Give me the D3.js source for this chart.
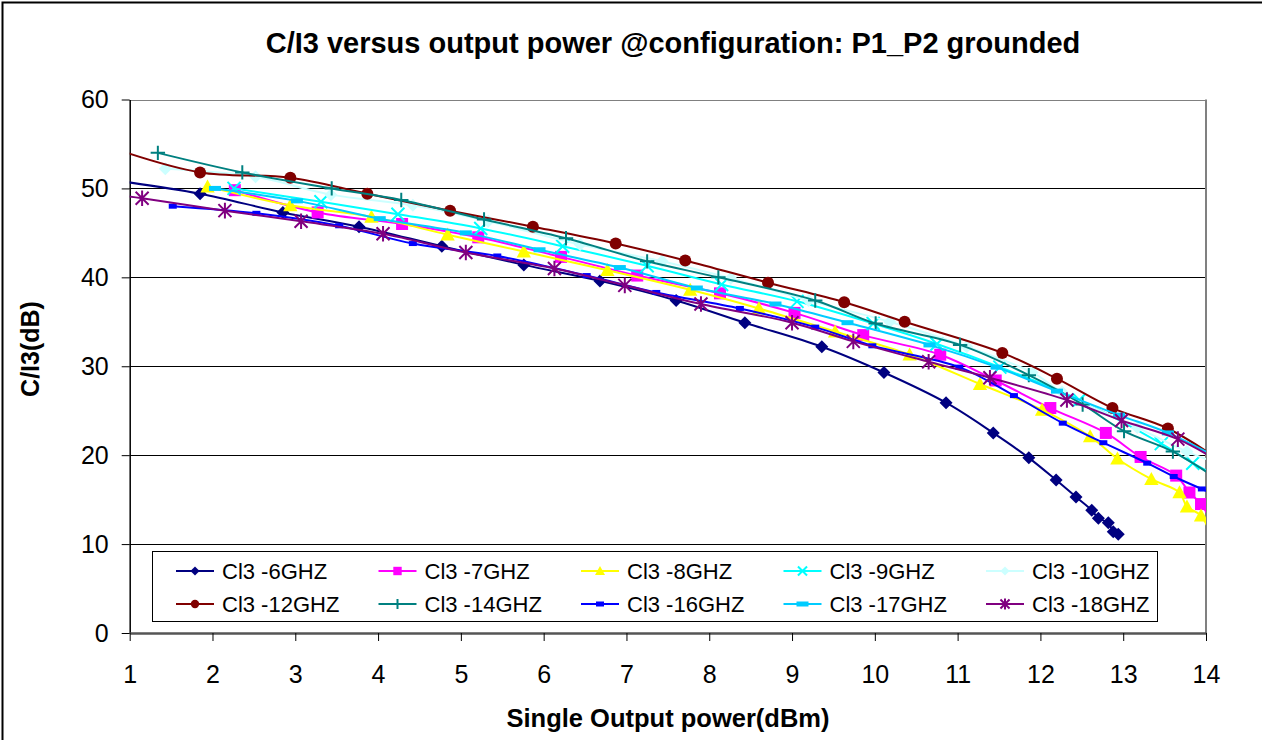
<!DOCTYPE html>
<html>
<head>
<meta charset="utf-8">
<script src="https://cdn.jsdelivr.net/npm/d3@7"></script>
<style>
  body { margin: 0; background: #fff; }
  svg { display: block; font-family: "Liberation Sans", Arial, sans-serif; }
</style>
</head>
<body>
<svg width="1262" height="740"></svg>
<script>
var margin = {left:129.7, right:56, top:99.5, bottom:107};
var width = 1262, height = 740;

var xTicks = [1,2,3,4,5,6,7,8,9,10,11,12,13,14];
var yTicks = [0,10,20,30,40,50,60];

var seriesNames = ["Cl3 -6GHZ","Cl3 -7GHZ","Cl3 -8GHZ","Cl3 -9GHZ","Cl3 -10GHZ",
                   "Cl3 -12GHZ","Cl3 -14GHZ","Cl3 -16GHZ","Cl3 -17GHZ","Cl3 -18GHZ"];

// [output power dBm, C/I3 dB]
var ci6 = [[0.9,50.8],[1.85,49.4],[2.85,47.3],[3.77,45.7],[4.77,43.5],[5.76,41.4],[6.68,39.6],
  [7.6,37.4],[8.43,34.9],[9.36,32.2],[10.11,29.3],[10.86,25.9],[11.43,22.5],[11.86,19.7],
  [12.19,17.2],[12.43,15.3],[12.62,13.8],[12.7,12.9],[12.82,12.4],[12.88,11.4],[12.94,11.1]];
var ci7 = [[2.27,49.8],[3.27,47.3],[4.29,46.0],[5.21,44.5],[6.21,42.3],[7.13,40.2],[8.13,38.2],
  [9.03,36.0],[9.86,33.5],[10.79,31.3],[11.46,28.4],[12.12,25.3],[12.79,22.5],[13.21,19.8],
  [13.64,17.7],[13.8,15.8],[13.94,14.5],[14.1,12.0]];
var ci8 = [[1.94,50.2],[2.94,48.1],[3.92,46.8],[4.84,44.8],[5.76,42.9],[6.77,40.8],[7.77,38.6],
  [8.6,36.5],[9.52,33.9],[10.42,31.3],[11.27,28.0],[12.02,25.1],[12.6,22.1],[12.93,19.6],
  [13.34,17.3],[13.68,15.8],[13.77,14.2],[13.94,13.2],[14.1,10.0]];
var ci9 = [[2.26,50.0],[3.31,48.5],[4.24,47.1],[5.24,45.5],[6.23,43.5],[7.25,41.3],[8.15,39.2],
  [9.06,37.3],[9.98,34.8],[10.75,32.5],[11.51,29.9],[12.47,26.2],[13.46,21.3],[13.84,19.1],[14.3,16.9]];
var ci10 = [[1.43,52.2],[2.52,51.3],[3.43,49.3],[4.42,48.1],[5.33,46.3],[6.44,43.7],[7.43,41.8],
  [8.26,39.9],[9.2,37.4],[10.18,35.0],[11.11,32.2],[11.9,29.3],[12.26,27.1],[13.17,23.1],
  [13.77,20.4],[14.3,18.6]];
var ci12 = [[0.9,54.2],[1.85,51.8],[2.94,51.2],[3.87,49.4],[4.87,47.5],[5.87,45.7],[6.87,43.8],
  [7.71,41.9],[8.71,39.4],[9.63,37.2],[10.36,35.0],[11.54,31.5],[12.2,28.6],[12.87,25.3],
  [13.54,23.0],[14.3,18.6]];
var ci14 = [[1.34,54.0],[2.36,51.8],[3.44,50.0],[4.28,48.7],[5.28,46.5],[6.27,44.4],[7.25,41.8],
  [8.11,40.0],[9.28,37.4],[10.01,34.8],[11.03,32.4],[11.86,29.0],[12.51,25.7],[13.01,22.7],
  [13.6,20.4],[14.3,16.3]];
var ci16 = [[1.52,48.0],[2.53,47.2],[3.53,45.8],[4.42,43.8],[5.44,42.4],[6.52,40.2],[7.36,38.3],
  [8.37,36.5],[9.28,34.4],[9.97,32.3],[11.02,29.9],[11.68,26.7],[12.27,23.6],[12.76,21.4],
  [13.29,19.1],[13.61,17.6],[13.95,16.2],[14.3,14.9]];
var ci17 = [[2.03,50.0],[3.02,48.6],[4.02,46.6],[5.06,45.0],[5.95,43.1],[6.92,41.1],[7.85,38.8],
  [8.8,37.0],[9.67,34.9],[10.66,32.4],[11.47,29.9],[12.2,27.2],[12.95,24.5],[13.54,22.5],[14.3,18.9]];
var ci18 = [[0.9,49.2],[1.15,48.9],[2.15,47.5],[3.07,46.3],[4.06,44.9],[5.06,42.8],[6.13,41.0],
  [6.98,39.1],[7.9,37.0],[9.0,34.9],[9.74,32.8],[10.65,30.5],[11.39,28.7],[12.32,26.2],
  [12.98,23.9],[13.66,21.8],[14.3,18.5]];

var seriesData = [ci6, ci7, ci8, ci9, ci10, ci12, ci14, ci16, ci17, ci18];
var colors = ["#000080","#FF00FF","#FFFF00","#00FFFF","#CCFFFF",
              "#800000","#008080","#0000FF","#00CCFF","#800080"];
var markers = ["diamond","square","triangle","x","diamond","circle","plus","smalldash","dash","star"];

var svg = d3.select("svg");

var x = d3.scaleLinear().domain([1,14]).range([margin.left, width - margin.right]);
var y = d3.scaleLinear().domain([0,60]).range([height - margin.bottom, margin.top]);

// outer chart border
svg.append("rect").attr("x",2.5).attr("y",2.5).attr("width",1300).attr("height",800)
  .attr("fill","none").attr("stroke","#000").attr("stroke-width",2);

// title
svg.append("text").attr("x",673).attr("y",53).attr("text-anchor","middle")
  .attr("font-size",29).attr("font-weight","bold").text("C/I3 versus output power @configuration: P1_P2 grounded");

// gridlines
svg.append("g").selectAll("line").data(yTicks.filter(function(d){return d > 0;})).enter().append("line")
  .attr("x1",x(1)).attr("x2",x(14))
  .attr("y1",function(d){return Math.round(y(d))+0.5;}).attr("y2",function(d){return Math.round(y(d))+0.5;})
  .attr("stroke",function(d){return d == 60 ? "#808080" : "#000";}).attr("stroke-width",1);

// right border of plot area
svg.append("line").attr("x1",x(14)).attr("x2",x(14)).attr("y1",y(60)).attr("y2",y(0))
  .attr("stroke","#808080").attr("stroke-width",2);

// axes
var yAxis = svg.append("g").attr("transform","translate(" + x(1) + ",0)")
  .call(d3.axisLeft(y).tickValues(yTicks).tickSize(8).tickPadding(13).tickSizeOuter(0));
var xAxis = svg.append("g").attr("transform","translate(0," + y(0) + ")")
  .call(d3.axisBottom(x).tickValues(xTicks).tickSize(8).tickPadding(24).tickSizeOuter(0));
[xAxis, yAxis].forEach(function(a){
  a.selectAll("text").attr("font-size",25).attr("fill","#000").attr("font-family","Liberation Sans, Arial, sans-serif");
  a.selectAll("line").attr("stroke","#000");
});
yAxis.select(".domain").attr("stroke","#000").attr("stroke-width",1.5);
xAxis.select(".domain").attr("stroke","#555").attr("stroke-width",2.5);

// axis titles
svg.append("text").attr("x",668).attr("y",727).attr("text-anchor","middle")
  .attr("font-size",25.5).attr("font-weight","bold").text("Single Output power(dBm)");
svg.append("text").attr("transform","translate(39,349) rotate(-90)").attr("text-anchor","middle")
  .attr("font-size",25).attr("font-weight","bold").text("C/I3(dB)");

// clip for the plot area
svg.append("clipPath").attr("id","plotclip").append("rect")
  .attr("x",x(1)).attr("y",y(60)).attr("width",x(14)-x(1)).attr("height",y(0)-y(60));

var line = d3.line().x(function(d){return x(d[0]);}).y(function(d){return y(d[1]);})
  .curve(d3.curveCatmullRom.alpha(0.5));

function drawMarker(g, type, color, s) {
  if (type == "diamond") {
    g.append("path").attr("d","M0,"+(-s)+"L"+s+",0L0,"+s+"L"+(-s)+",0Z").attr("fill",color);
  } else if (type == "square") {
    g.append("rect").attr("x",-s).attr("y",-s).attr("width",2*s).attr("height",2*s).attr("fill",color);
  } else if (type == "triangle") {
    g.append("path").attr("d","M0,"+(-s*1.1)+"L"+(s*1.1)+","+(s*0.9)+"L"+(-s*1.1)+","+(s*0.9)+"Z").attr("fill",color);
  } else if (type == "circle") {
    g.append("circle").attr("r",s).attr("fill",color);
  } else if (type == "x") {
    g.append("path").attr("d","M"+(-s)+","+(-s)+"L"+s+","+s+"M"+s+","+(-s)+"L"+(-s)+","+s)
      .attr("stroke",color).attr("stroke-width",2).attr("fill","none");
  } else if (type == "plus") {
    g.append("path").attr("d","M"+(-s*1.2)+",0L"+(s*1.2)+",0M0,"+(-s*1.2)+"L0,"+(s*1.2))
      .attr("stroke",color).attr("stroke-width",2).attr("fill","none");
  } else if (type == "star") {
    g.append("path").attr("d","M"+(-s)+","+(-s)+"L"+s+","+s+"M"+s+","+(-s)+"L"+(-s)+","+s+"M0,"+(-s*1.2)+"L0,"+(s*1.2))
      .attr("stroke",color).attr("stroke-width",2).attr("fill","none");
  } else if (type == "smalldash") {
    g.append("rect").attr("x",-4).attr("y",-2.5).attr("width",8).attr("height",5).attr("fill",color);
  } else if (type == "dash") {
    g.append("rect").attr("x",-6).attr("y",-2.5).attr("width",12).attr("height",5).attr("fill",color);
  }
}
var markerSize = {diamond:6.5, square:6, triangle:6.5, circle:6, x:6.5, plus:6, star:6.5, smalldash:0, dash:0};

var plot = svg.append("g").attr("clip-path","url(#plotclip)");
seriesData.forEach(function(data, i) {
  var g = plot.append("g");
  g.append("path").datum(data).attr("d",line).attr("fill","none")
    .attr("stroke",colors[i]).attr("stroke-width",2);
  data.forEach(function(d) {
    var m = g.append("g").attr("transform","translate(" + x(d[0]) + "," + y(d[1]) + ")");
    drawMarker(m, markers[i], colors[i], markerSize[markers[i]]);
  });
});

// legend
var legend = svg.append("g");
legend.append("rect").attr("x",152.5).attr("y",551.5).attr("width",1005).attr("height",70)
  .attr("fill","#fff").attr("stroke","#000").attr("stroke-width",1);
seriesNames.forEach(function(name, i) {
  var col = i % 5, row = Math.floor(i / 5);
  var lx = 176 + col * 202.5, ly = 571 + row * 33;
  legend.append("line").attr("x1",lx).attr("x2",lx+38).attr("y1",ly).attr("y2",ly)
    .attr("stroke",colors[i]).attr("stroke-width",2);
  var m = legend.append("g").attr("transform","translate(" + (lx+19) + "," + ly + ")");
  drawMarker(m, markers[i], colors[i], markerSize[markers[i]] * 0.7);
  legend.append("text").attr("x",lx+46).attr("y",ly+8).attr("font-size",22).text(name);
});
</script>
</body>
</html>
